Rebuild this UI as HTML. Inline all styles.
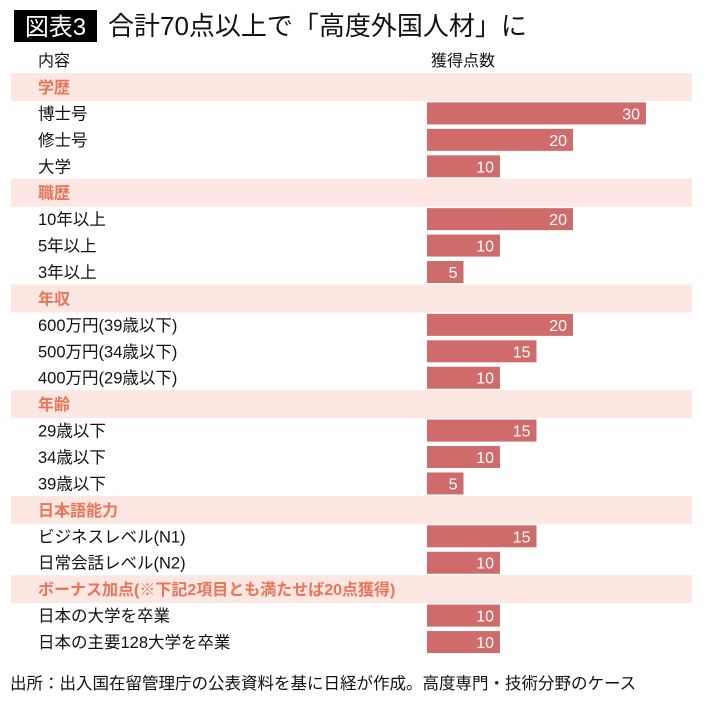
<!DOCTYPE html>
<html><head><meta charset="utf-8"><style>
body{margin:0;background:#fff;width:710px;height:706px;overflow:hidden}
svg{display:block;font-family:"Liberation Sans","Noto Sans CJK JP",sans-serif}
</style></head><body>
<svg id="c" width="710" height="706">
<rect x="14" y="10" width="83" height="32" fill="#000"/>
<text x="55.5" y="35" text-anchor="middle" font-size="24" fill="#fff">図表3</text>
<text x="108" y="35" font-size="26" fill="#111">合計70点以上で「高度外国人材」に</text>
<text x="38" y="66" font-size="16" fill="#111">内容</text>
<text x="431" y="66" font-size="16" fill="#111">獲得点数</text>
<g id="rows"></g>
<text x="10" y="689" font-size="16.5" fill="#111">出所：出入国在留管理庁の公表資料を基に日経が作成。高度専門・技術分野のケース</text>
</svg>
<script>
const labels=["学歴","博士号","修士号","大学","職歴","10年以上","5年以上","3年以上","年収","600万円(39歳以下)","500万円(34歳以下)","400万円(29歳以下)","年齢","29歳以下","34歳以下","39歳以下","日本語能力","ビジネスレベル(N1)","日常会話レベル(N2)","ボーナス加点(※下記2項目とも満たせば20点獲得)","日本の大学を卒業","日本の主要128大学を卒業"];
const values=[null,30,20,10,null,20,10,5,null,20,15,10,null,15,10,5,null,15,10,null,10,10];
const x0=427, unit=7.3, y0=87, pitch=26.43;
const xs=v=>v*unit;
const g=document.getElementById('rows');
const NS='http://www.w3.org/2000/svg';
labels.forEach((lab,i)=>{
  const cy=y0+i*pitch;
  const v=values[i];
  if(v===null){
    const r=document.createElementNS(NS,'rect');
    r.setAttribute('x',11);r.setAttribute('y',cy-14);r.setAttribute('width',681);r.setAttribute('height',28);r.setAttribute('fill','#fde7e3');
    
    
    g.appendChild(r);
    const t=document.createElementNS(NS,'text');
    t.setAttribute('x',38);t.setAttribute('y',cy+6);t.setAttribute('font-size',16);t.setAttribute('font-weight','bold');t.setAttribute('fill','#ea7458');
    t.textContent=lab;
    
    
    g.appendChild(t);
  } else {
    const t=document.createElementNS(NS,'text');
    t.setAttribute('x',38);t.setAttribute('y',cy+6);t.setAttribute('font-size',16.5);t.setAttribute('fill','#111');
    t.textContent=lab;
    
    
    g.appendChild(t);
    const r=document.createElementNS(NS,'rect');
    r.setAttribute('x',x0);r.setAttribute('y',cy-11);r.setAttribute('width',xs(v));r.setAttribute('height',22);r.setAttribute('fill','#d06b6b');
    
    
    g.appendChild(r);
    const vt=document.createElementNS(NS,'text');
    vt.setAttribute('x',x0+xs(v)-6);vt.setAttribute('y',cy+6);vt.setAttribute('font-size',16);vt.setAttribute('fill','#fff');vt.setAttribute('text-anchor','end');
    vt.textContent=v;
    
    
    g.appendChild(vt);
  }
});
</script>
</body></html>
